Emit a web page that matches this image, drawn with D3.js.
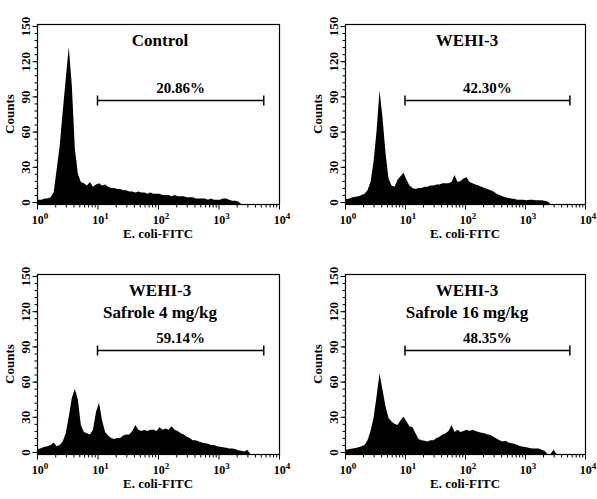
<!DOCTYPE html>
<html>
<head>
<meta charset="utf-8">
<script src="https://cdn.jsdelivr.net/npm/d3@7"></script>
<style>
  body { margin: 0; background: #fff; }
  svg text { font-family: "Liberation Serif", "Times New Roman", serif; font-weight: bold; fill: #000; }
</style>
</head>
<body>
<div id="chart"></div>
<script>
// histogram channels, 0.05 log10 units wide, starting at 10^0
var binWidth = 0.05;

var control = [2,2,3,3,4,8,28,48,77,105, 132,100,46,24,17,16,14,17,13,15,
  16,14,15,13,12,12,11,11,10,10, 9,9,8,9,8,8,7,8,7,7,
  7,6,6,6,5,6,5,5,5,4, 4,4,3,3,3,3,2,3,2,2,
  2,3,3,2,1,1,0.5,0,0,0, 0,0,0,0,0,0,0,0,0,0];

var wehi3 = [2.5,3,4,4.5,5,6,7,10,17,34, 60,95,72,42,20,14,13,19,22,25,
  19,14,12,11,12,12,13,13,14,14, 15,15,16,16,16,17,23,17,18,20,
  21,17,16,15,14,13,12,11,10,9, 7,6,5,4,3.5,3,2.5,2,2,2,
  1.5,2,2,1.5,1.5,1.5,1,0.5,0,0, 0,0,0,0,0,0,0,0,0,0];

var safrole4 = [2.5,3.5,4.5,5,6,8,5,6,9,16, 30,46,54,45,23,17,16,15,19,34,
  42,27,17,14,12,11,12,12,14,15, 15,18,23,19,18,19,18,19,19,18,
  21,19,20,19,22,19,18,16,15,13, 12,10,10,9,8,7.5,7,6,6,5,
  4.5,4,3.7,3,3,2.5,1.5,1,0.5,2, 0,0,0,0,0,0,0,0,0,0];

var safrole16 = [2,2.5,3,3.5,4,5,6,10,18,29, 47,67,53,39,29,26,24,23,27,30,
  26,22,21,16,11,10,9.5,9,10,10, 12,13,15,16,18,23,17,19,17,18,
  19,18,19,18,17,16.5,16,15,14.5,13, 11.5,10,9,9.5,8,7.4,7,6,5,4.5,
  4,3.5,3,3,3,2,1,0,0,2, 0,0,0,0,0,0,0,0,0,0];

var titles = [["Control"], ["WEHI-3"], ["WEHI-3", "Safrole 4 mg/kg"], ["WEHI-3", "Safrole 16 mg/kg"]];
var percents = ["20.86%", "42.30%", "59.14%", "48.35%"];
var gate = [10, 5600];
var gateLevel = 87;
var yTicks = [0, 30, 60, 90, 120, 150];
var xTicks = [1, 10, 100, 1000, 10000];

var svg = d3.select("#chart").append("svg")
    .attr("width", 597)
    .attr("height", 499);

var panels = [
  {values: control,   left: 37,  right: 279, bottom: 204},
  {values: wehi3,     left: 345, right: 585, bottom: 204},
  {values: safrole4,  left: 37,  right: 279, bottom: 454},
  {values: safrole16, left: 345, right: 585, bottom: 454}
];

var yMinor = d3.range(0, 151, 6);
var xMinor = [];
[1, 10, 100, 1000].forEach(function(d) {
  d3.range(2, 10).forEach(function(m) { xMinor.push(d * m); });
});

panels.forEach(function(p, k) {
  var top = p.bottom - 180;
  var x = d3.scaleLog().domain([1, 10000]).range([p.left, p.right]);
  var y = d3.scaleLinear().domain([-1.7, 151.7]).range([p.bottom, top]);
  var g = svg.append("g");

  // histogram
  var pts = [[1, p.values[0]]].concat(p.values.map(function(v, i) {
    return [Math.pow(10, (i + 0.5) * binWidth), v];
  }));
  var area = d3.area()
    .x(function(d) { return x(d[0]); })
    .y0(p.bottom)
    .y1(function(d) { return d[1] > 0 ? y(d[1]) : p.bottom; });
  g.append("path").datum(pts)
    .attr("d", area)
    .attr("fill", "#000");

  // frame
  g.append("rect")
    .attr("x", p.left + 0.5).attr("y", top + 0.5)
    .attr("width", p.right - p.left).attr("height", 180)
    .attr("fill", "none").attr("stroke", "#000").attr("stroke-width", 1.2);

  // y axis
  var ya = g.append("g").attr("transform", "translate(" + (p.left + 0.5) + ",0)")
    .call(d3.axisLeft(y).tickValues(yTicks).tickSize(5).tickSizeOuter(0));
  ya.select(".domain").remove();
  ya.selectAll("text")
    .attr("x", 0).attr("y", -8).attr("dy", null)
    .attr("transform", "rotate(-90)")
    .attr("text-anchor", "middle")
    .style("font-size", "13px");
  var ym = g.append("g").attr("transform", "translate(" + (p.left + 0.5) + ",0)")
    .call(d3.axisLeft(y).tickValues(yMinor).tickSize(3).tickFormat(""));
  ym.select(".domain").remove();

  // x axis
  var xa = g.append("g").attr("transform", "translate(0," + (p.bottom + 0.5) + ")")
    .call(d3.axisBottom(x).tickValues(xTicks).tickSize(5).tickFormat(""));
  xa.select(".domain").remove();
  var xm = g.append("g").attr("transform", "translate(0," + (p.bottom + 0.5) + ")")
    .call(d3.axisBottom(x).tickValues(xMinor).tickSize(3).tickFormat(""));
  xm.select(".domain").remove();
  g.selectAll(".xlab").data(xTicks).enter().append("text")
    .attr("class", "xlab")
    .attr("x", function(d) { return x(d) + 3; })
    .attr("y", p.bottom + 20)
    .attr("text-anchor", "middle")
    .style("font-size", "12px")
    .text("10")
    .append("tspan")
      .attr("dy", -5)
      .style("font-size", "9px")
      .text(function(d) { return Math.round(Math.log10(d)); });

  g.append("text")
    .attr("x", (p.left + p.right) / 2)
    .attr("y", p.bottom + 34)
    .attr("text-anchor", "middle")
    .style("font-size", "13px")
    .text("E. coli-FITC");

  g.append("text")
    .attr("transform", "translate(" + (p.left - 23) + "," + ((top + p.bottom) / 2) + ")rotate(-90)")
    .attr("text-anchor", "middle")
    .style("font-size", "13px")
    .text("Counts");

  // title
  titles[k].forEach(function(t, j) {
    g.append("text")
      .attr("x", (p.left + p.right) / 2 + 2)
      .attr("y", top + 22 + j * 22)
      .attr("text-anchor", "middle")
      .style("font-size", "17px")
      .text(t);
  });

  // gate marker
  var gy = Math.round(y(gateLevel)) + 0.5;
  g.append("line")
    .attr("x1", x(gate[0])).attr("x2", x(gate[1]))
    .attr("y1", gy).attr("y2", gy)
    .attr("stroke", "#000").attr("stroke-width", 1.5);
  gate.forEach(function(d) {
    g.append("line")
      .attr("x1", x(d)).attr("x2", x(d))
      .attr("y1", gy - 5).attr("y2", gy + 5)
      .attr("stroke", "#000").attr("stroke-width", 1.5);
  });
  g.append("text")
    .attr("x", (x(gate[0]) + x(gate[1])) / 2)
    .attr("y", gy - 8)
    .attr("text-anchor", "middle")
    .style("font-size", "15px")
    .text(percents[k]);
});
</script>
</body>
</html>
